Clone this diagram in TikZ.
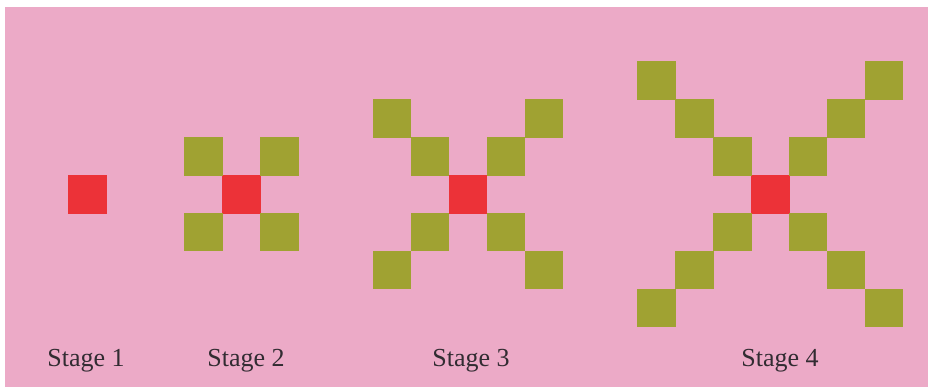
\documentclass[tikz,border=0pt]{standalone}
\usepackage{fontspec}
\setmainfont{Liberation Serif}
\usepackage{xcolor}
\usepackage{tikz}
\definecolor{bgpink}{RGB}{236,170,199}
\definecolor{tilered}{RGB}{236,50,56}
\definecolor{tileolive}{RGB}{160,162,50}
\definecolor{labelgray}{RGB}{50,44,50}

\begin{document}
\begin{tikzpicture}[x=1pt,y=-1pt,
  tile/.style={minimum size=38.5pt,inner sep=0pt,outer sep=0pt},
  stagelabel/.style={anchor=base,inner sep=0pt,text=labelgray,font=\fontsize{26}{30}\selectfont}]
  \useasboundingbox (0,0) rectangle (928,387);
  \fill[bgpink] (5,7) rectangle (928,387);
  % stage 1
  \node[tile,fill=tilered] (c1) at (87.5,194.3) {};
  % stages 2 to 4: red centre with olive arms
  \foreach \n/\cx/\k in {2/241.4/1,3/468/2,4/770.3/3}{
    \node[tile,fill=tilered] (c\n) at (\cx,194.3) {};
    \foreach \i in {1,...,\k}{
      \node[tile,fill=tileolive] (c\n-ul\i) at (\cx-37.9*\i,194.3-37.9*\i) {};
      \node[tile,fill=tileolive] (c\n-ur\i) at (\cx+37.9*\i,194.3-37.9*\i) {};
      \node[tile,fill=tileolive] (c\n-dl\i) at (\cx-37.9*\i,194.3+37.9*\i) {};
      \node[tile,fill=tileolive] (c\n-dr\i) at (\cx+37.9*\i,194.3+37.9*\i) {};
    }
  }
  \node[stagelabel] (l1) at (86,366.7) {Stage 1};
  \node[stagelabel] (l2) at (246,366.7) {Stage 2};
  \node[stagelabel] (l3) at (471,366.7) {Stage 3};
  \node[stagelabel] (l4) at (780,366.7) {Stage 4};
\end{tikzpicture}
\end{document}
